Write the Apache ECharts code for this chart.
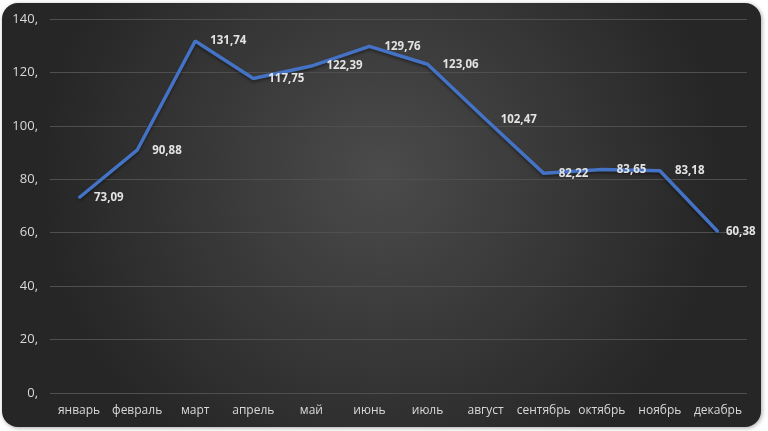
<!DOCTYPE html>
<html><head><meta charset="utf-8">
<style>html,body{margin:0;padding:0;background:#fff;}#c{width:768px;height:431px;}</style>
<script src="https://cdn.jsdelivr.net/npm/echarts@6/dist/echarts.min.js"></script>
</head><body><div id="c"></div>
<script>
var categories = ['январь','февраль','март','апрель','май','июнь','июль','август','сентябрь','октябрь','ноябрь','декабрь'];
var values = [73.09, 90.88, 131.74, 117.75, 122.39, 129.76, 123.06, 102.47, 82.22, 83.65, 83.18, 60.38];
var yTicks = [0, 20, 40, 60, 80, 100, 120, 140];

var seriesData = values.map(function(v, i){
  return i === values.length - 1 ? {value: v, label: {distance: 7}} : v;
});

var chart = echarts.init(document.getElementById('c'));
chart.setOption({
  animation: false,
  backgroundColor: '#ffffff',
  graphic: [{
    type: 'rect', z: -10, silent: true,
    shape: {x: 2, y: 3, width: 759, height: 424, r: 16},
    style: {
      fill: {type: 'radial', x: 0.5, y: 0.4, r: 0.8,
        colorStops: [{offset: 0, color: '#4b4b4b'}, {offset: 1, color: '#262626'}]},
      shadowBlur: 4, shadowColor: 'rgba(0,0,0,0.35)', shadowOffsetX: 1, shadowOffsetY: 1
    }
  }],
  grid: {left: 50, right: 21, top: 19, bottom: 38, containLabel: false},
  xAxis: {
    type: 'category', data: categories, boundaryGap: true,
    axisLine: {show: false}, axisTick: {show: false},
    axisLabel: {color: '#d9d9d9', fontSize: 12, fontFamily: 'Open Sans', margin: 12, interval: 0}
  },
  yAxis: {
    type: 'value', min: 0, max: 140, interval: 20,
    axisLine: {show: false}, axisTick: {show: false},
    axisLabel: {color: '#d9d9d9', fontSize: 13, fontFamily: 'Open Sans', margin: 12,
      formatter: function(v){ return v + ','; }},
    splitLine: {lineStyle: {color: '#4f4f4f', width: 1}}
  },
  series: [{
    type: 'line', data: seriesData, symbol: 'circle', symbolSize: 2, showSymbol: true,
    itemStyle: {color: '#4472C4'},
    lineStyle: {color: '#4472C4', width: 3.5, shadowColor: 'rgba(0,0,0,0.4)', shadowBlur: 3, shadowOffsetY: 2},
    labelLayout: {hideOverlap: false},
    label: {show: true, position: 'right', distance: 14, offset: [0, 1],
      color: '#e3e3e3', fontWeight: 'bold', fontSize: 11.5, fontFamily: 'Open Sans',
      formatter: function(p){ return String(p.value.toFixed(2)).replace('.', ','); }}
  }]
});
</script></body></html>
